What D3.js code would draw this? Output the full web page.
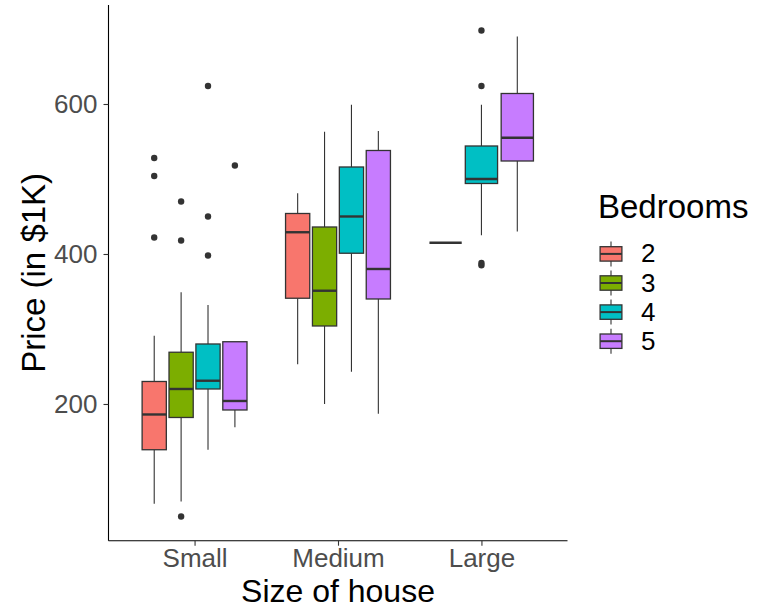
<!DOCTYPE html>
<html>
<head>
<meta charset="utf-8">
<script src="https://cdn.jsdelivr.net/npm/d3@7"></script>
<style>
  html, body { margin: 0; padding: 0; background: #fff; }
  svg { display: block; font-family: "Liberation Sans", Arial, sans-serif; }
</style>
</head>
<body>
<svg id="chart" width="769" height="609"></svg>
<script>
// ---- Data ----
const sizes = ["Small", "Medium", "Large"];
const bedrooms = ["2", "3", "4", "5"];
const colors = ["#F8766D", "#7CAE00", "#00BFC4", "#C77CFF"];
const yTicks = [200, 400, 600];

// five-number summaries per size: [lower whisker, Q1, median, Q3, upper whisker]
const stats2 = [[67, 139, 186, 230, 291], [253, 341, 429, 454, 481], [415, 415, 415, 415, 415]];
const stats3 = [[70, 182, 220, 269, 349], [200, 304, 351, 436, 563], null];
const stats4 = [[139, 220, 231, 280, 332], [243, 401, 450, 516, 599], [425, 494, 500, 544, 599]];
const stats5 = [[169, 192, 204, 283, 283], [187, 340, 380, 538, 564], [430, 524, 555, 614, 690]];

// outliers per size
const outliers2 = [[528, 504, 422], [], []];
const outliers3 = [[50, 470, 418], [], []];
const outliers4 = [[624, 450, 398], [], [698, 624, 385, 388]];
const outliers5 = [[518], [], []];

const allStats = [stats2, stats3, stats4, stats5];
const allOutliers = [outliers2, outliers3, outliers4, outliers5];

// ---- Layout ----
const panel = { left: 108.5, right: 567.5, top: 5, bottom: 540.7 };
const svg = d3.select("#chart");

const x = d3.scalePoint().domain(sizes).range([panel.left, panel.right]).padding(0.6);
const y = d3.scaleLinear().domain([17.7, 732]).range([panel.bottom, panel.top]);

const ink = "#333333";
const g = svg.append("g");

// build box records with dodge
const boxes = [];
sizes.forEach((s, si) => {
  const present = bedrooms.map((b, bi) => bi).filter(bi => allStats[bi][si]);
  const n = present.length;
  const total = 0.75 * x.step();
  const slot = total / n;
  const bw = slot * 0.9;
  present.forEach((bi, k) => {
    const cx = x(s) - total / 2 + slot * (k + 0.5);
    boxes.push({ si, bi, cx, bw, st: allStats[bi][si], out: allOutliers[bi][si] });
  });
});

// whiskers
g.selectAll("line.whisk-up").data(boxes).join("line")
  .attr("x1", d => d.cx).attr("x2", d => d.cx)
  .attr("y1", d => y(d.st[3])).attr("y2", d => y(d.st[4]))
  .attr("stroke", ink).attr("stroke-width", 1.1);
g.selectAll("line.whisk-lo").data(boxes).join("line")
  .attr("x1", d => d.cx).attr("x2", d => d.cx)
  .attr("y1", d => y(d.st[1])).attr("y2", d => y(d.st[0]))
  .attr("stroke", ink).attr("stroke-width", 1.1);

// boxes
g.selectAll("rect.box").data(boxes).join("rect")
  .attr("x", d => d.cx - d.bw / 2).attr("width", d => d.bw)
  .attr("y", d => y(d.st[3])).attr("height", d => y(d.st[1]) - y(d.st[3]))
  .attr("fill", d => colors[d.bi]).attr("stroke", ink).attr("stroke-width", 1.3);

// medians
g.selectAll("line.med").data(boxes).join("line")
  .attr("x1", d => d.cx - d.bw / 2).attr("x2", d => d.cx + d.bw / 2)
  .attr("y1", d => y(d.st[2])).attr("y2", d => y(d.st[2]))
  .attr("stroke", ink).attr("stroke-width", 2.4);

// outliers
const pts = [];
boxes.forEach(b => b.out.forEach(v => pts.push({ cx: b.cx, v })));
g.selectAll("circle.out").data(pts).join("circle")
  .attr("cx", d => d.cx).attr("cy", d => y(d.v)).attr("r", 3.2)
  .attr("fill", ink);

// axes
const xAxis = svg.append("g").attr("transform", `translate(0,${panel.bottom})`)
  .call(d3.axisBottom(x).tickSize(5).tickPadding(3).tickSizeOuter(0));
const yAxis = svg.append("g").attr("transform", `translate(${panel.left},0)`)
  .call(d3.axisLeft(y).tickValues(yTicks).tickSize(5).tickPadding(6).tickSizeOuter(0));

[xAxis, yAxis].forEach(a => {
  a.select(".domain").attr("stroke", "#000").attr("stroke-width", 1.1);
  a.selectAll(".tick line").attr("stroke", ink).attr("stroke-width", 1.1);
  a.selectAll(".tick text").attr("fill", "#4D4D4D")
    .style("font-size", "26px").style("font-family", "'Liberation Sans', Arial, sans-serif");
});
// make the domain lines span the full panel
xAxis.select(".domain").attr("d", `M${panel.left},0H${panel.right}`);
yAxis.select(".domain").attr("d", `M0,${panel.bottom}V${panel.top}`);

// axis titles
svg.append("text").attr("x", (panel.left + panel.right) / 2).attr("y", 602)
  .attr("text-anchor", "middle").attr("fill", "#000").style("font-size", "32px")
  .text("Size of house");
svg.append("text")
  .attr("transform", `translate(45,${(panel.top + panel.bottom) / 2}) rotate(-90)`)
  .attr("text-anchor", "middle").attr("fill", "#000").style("font-size", "33px")
  .text("Price (in $1K)");

// legend
const leg = svg.append("g");
leg.append("text").attr("x", 598).attr("y", 218).attr("fill", "#000")
  .style("font-size", "33px").text("Bedrooms");
const keyStep = 29.1, key0 = 253.9, kx = 611;
const items = leg.selectAll("g.item").data(bedrooms).join("g")
  .attr("transform", (d, i) => `translate(0,${key0 + i * keyStep})`);
items.append("line").attr("x1", kx).attr("x2", kx).attr("y1", -12.5).attr("y2", 12.5)
  .attr("stroke", ink).attr("stroke-width", 1.1);
items.append("rect").attr("x", kx - 10.9).attr("width", 21.8).attr("y", -7.2).attr("height", 14.4)
  .attr("fill", (d, i) => colors[i]).attr("stroke", ink).attr("stroke-width", 1.3);
items.append("line").attr("x1", kx - 10.9).attr("x2", kx + 10.9).attr("y1", 0).attr("y2", 0)
  .attr("stroke", ink).attr("stroke-width", 2);
items.append("text").attr("x", 641).attr("y", 8.5).attr("fill", "#000")
  .style("font-size", "26px").text(d => d);
</script>
</body>
</html>
